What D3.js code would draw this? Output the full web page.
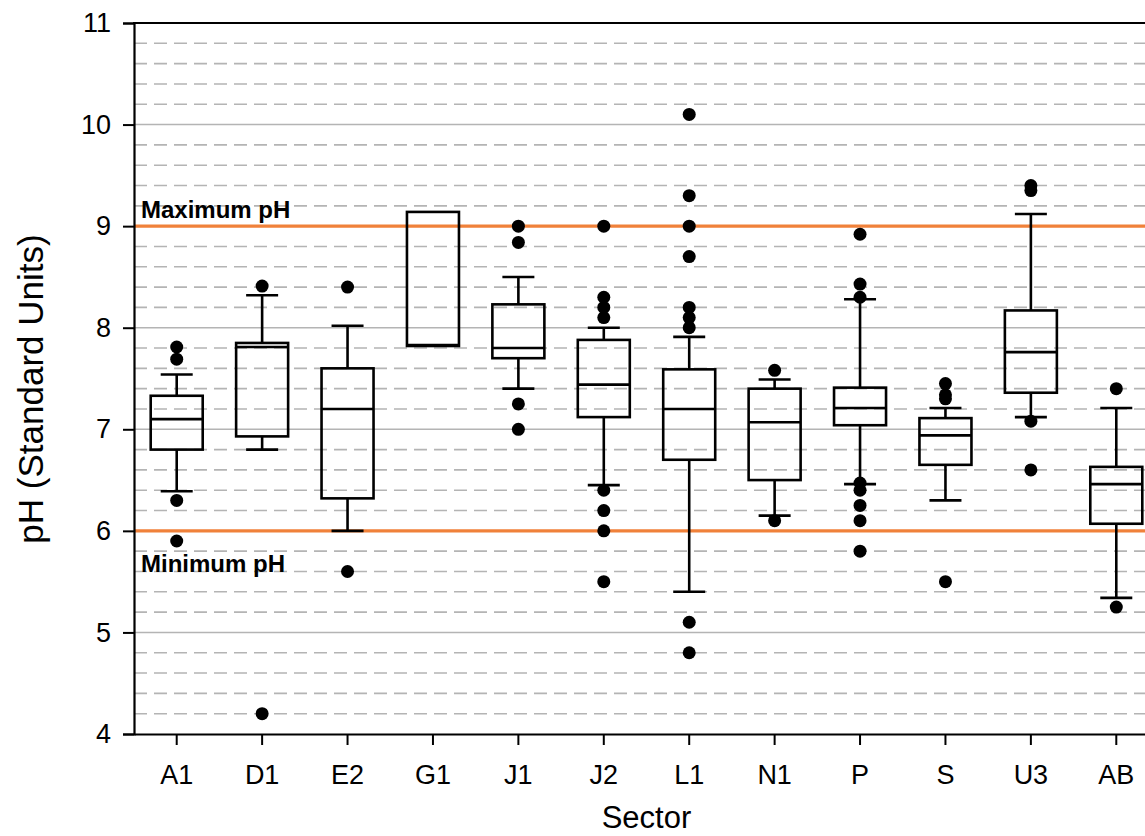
<!DOCTYPE html>
<html>
<head>
<meta charset="utf-8">
<script src="https://cdn.jsdelivr.net/npm/d3@7"></script>
<style>
  html, body { margin: 0; padding: 0; background: #fff; }
  svg { display: block; font-family: "Liberation Sans", Arial, sans-serif; }
</style>
</head>
<body>
<svg id="chart" width="1145" height="836"></svg>
<script>
// Sector pH box plots: quartiles, whiskers and outliers per sector
const categories = ["A1", "D1", "E2", "G1", "J1", "J2", "L1", "N1", "P", "S", "U3", "AB"];
const q1         = [6.80, 6.93, 6.32, 7.82, 7.70, 7.12, 6.70, 6.50, 7.04, 6.65, 7.36, 6.07];
const medians    = [7.10, 7.81, 7.20, 7.83, 7.80, 7.44, 7.20, 7.07, 7.21, 6.94, 7.76, 6.46];
const q3         = [7.33, 7.85, 7.60, 9.14, 8.23, 7.88, 7.59, 7.40, 7.41, 7.11, 8.17, 6.63];
const whiskerLow = [6.39, 6.80, 6.00, 7.82, 7.40, 6.45, 5.40, 6.15, 6.46, 6.30, 7.12, 5.34];
const whiskerHigh= [7.54, 8.32, 8.02, 9.14, 8.50, 8.00, 7.91, 7.49, 8.28, 7.21, 9.12, 7.21];
const outliers = [
  [7.81, 7.69, 6.30, 5.90],
  [8.41, 4.20],
  [8.40, 5.60],
  [],
  [9.00, 8.84, 7.25, 7.00],
  [9.00, 8.30, 8.20, 8.10, 6.40, 6.20, 6.00, 5.50],
  [10.10, 9.30, 9.00, 8.70, 8.20, 8.10, 8.00, 5.10, 4.80],
  [7.58, 6.10],
  [8.92, 8.43, 8.30, 6.47, 6.40, 6.25, 6.10, 5.80],
  [7.45, 7.34, 7.30, 5.50],
  [9.40, 9.35, 7.08, 6.60],
  [7.40, 5.25]
];
const yTicks = [4, 5, 6, 7, 8, 9, 10, 11];
const limits = [
  { value: 9, label: "Maximum pH" },
  { value: 6, label: "Minimum pH" }
];

const svg = d3.select("#chart");
const plotLeft = 134, plotTop = 23, plotBottom = 734, plotRight = 1159;

const x = d3.scaleBand().domain(categories).range([plotLeft, plotRight]).paddingInner(0).paddingOuter(0);
const y = d3.scaleLinear().domain([4, 11]).range([plotBottom, plotTop]);

const boxW = 52, capW = 32;

// Grid: dashed minor lines every 0.2, solid lines at whole units
const minor = d3.range(4.2, 11, 0.2).filter(v => Math.abs(v - Math.round(v)) > 0.01);
const grid = svg.append("g");
grid.selectAll("line.minor").data(minor).join("line")
  .attr("class", "minor")
  .attr("x1", plotLeft).attr("x2", 1145)
  .attr("y1", d => y(d)).attr("y2", d => y(d))
  .attr("stroke", "#b4b4b4").attr("stroke-width", 1.6)
  .attr("stroke-dasharray", "13,7");
grid.selectAll("line.major").data(yTicks.filter(v => v > 4 && v < 11)).join("line")
  .attr("class", "major")
  .attr("x1", plotLeft).attr("x2", 1145)
  .attr("y1", d => y(d)).attr("y2", d => y(d))
  .attr("stroke", "#b4b4b4").attr("stroke-width", 1.6);

// Limit lines
svg.append("g").selectAll("line").data(limits).join("line")
  .attr("x1", plotLeft).attr("x2", 1145)
  .attr("y1", d => y(d.value)).attr("y2", d => y(d.value))
  .attr("stroke", "#f0813a").attr("stroke-width", 3.2);

svg.append("g").selectAll("text").data(limits).join("text")
  .attr("x", 141)
  .attr("y", d => d.value === 9 ? y(d.value) - 8 : y(d.value) + 41)
  .attr("font-size", 24).attr("font-weight", "bold").attr("fill", "#000")
  .text(d => d.label);

// Boxes
const boxes = svg.append("g").selectAll("g").data(categories).join("g")
  .attr("transform", d => `translate(${x(d) + x.bandwidth() / 2},0)`);

boxes.each(function (c, i) {
  const g = d3.select(this);
  const line = (x1, y1, x2, y2) => g.append("line")
    .attr("x1", x1).attr("y1", y1).attr("x2", x2).attr("y2", y2)
    .attr("stroke", "#000").attr("stroke-width", 2.6);
  if (whiskerHigh[i] > q3[i]) {
    line(0, y(q3[i]), 0, y(whiskerHigh[i]));
    line(-capW / 2, y(whiskerHigh[i]), capW / 2, y(whiskerHigh[i]));
  }
  if (whiskerLow[i] < q1[i]) {
    line(0, y(q1[i]), 0, y(whiskerLow[i]));
    line(-capW / 2, y(whiskerLow[i]), capW / 2, y(whiskerLow[i]));
  }
  g.append("rect")
    .attr("x", -boxW / 2).attr("width", boxW)
    .attr("y", y(q3[i])).attr("height", y(q1[i]) - y(q3[i]))
    .attr("fill", "none").attr("stroke", "#000").attr("stroke-width", 2.6);
  line(-boxW / 2, y(medians[i]), boxW / 2, y(medians[i]));
  g.selectAll("circle").data(outliers[i]).join("circle")
    .attr("cx", 0).attr("cy", d => y(d)).attr("r", 6.5).attr("fill", "#000");
});

// Axes
const yAxis = d3.axisLeft(y).tickValues(yTicks).tickSize(11).tickPadding(12).tickFormat(d3.format("d"));
const yg = svg.append("g").attr("transform", `translate(${plotLeft},0)`).call(yAxis);
yg.select(".domain").attr("stroke", "#000").attr("stroke-width", 2.2);
yg.selectAll(".tick line").attr("stroke", "#000").attr("stroke-width", 2);
yg.selectAll(".tick text").attr("font-size", 27).attr("fill", "#000")
  .attr("font-family", "'Liberation Sans', Arial, sans-serif");

const xAxis = d3.axisBottom(x).tickSize(11).tickPadding(20).tickSizeOuter(0);
const xg = svg.append("g").attr("transform", `translate(0,${plotBottom})`).call(xAxis);
xg.select(".domain").attr("stroke", "#000").attr("stroke-width", 2.2);
xg.selectAll(".tick line").attr("stroke", "#000").attr("stroke-width", 2);
xg.selectAll(".tick text").attr("font-size", 27).attr("fill", "#000")
  .attr("font-family", "'Liberation Sans', Arial, sans-serif");

// Top frame line
svg.append("line").attr("x1", plotLeft - 1).attr("x2", 1145)
  .attr("y1", y(11)).attr("y2", y(11))
  .attr("stroke", "#000").attr("stroke-width", 2.2);

// Axis titles
svg.append("text")
  .attr("x", (plotLeft + plotRight) / 2).attr("y", 828)
  .attr("text-anchor", "middle").attr("font-size", 31).attr("fill", "#000")
  .text("Sector");
svg.append("text")
  .attr("transform", `translate(43,389) rotate(-90)`)
  .attr("text-anchor", "middle").attr("font-size", 35).attr("fill", "#000")
  .text("pH (Standard Units)");
</script>
</body>
</html>
